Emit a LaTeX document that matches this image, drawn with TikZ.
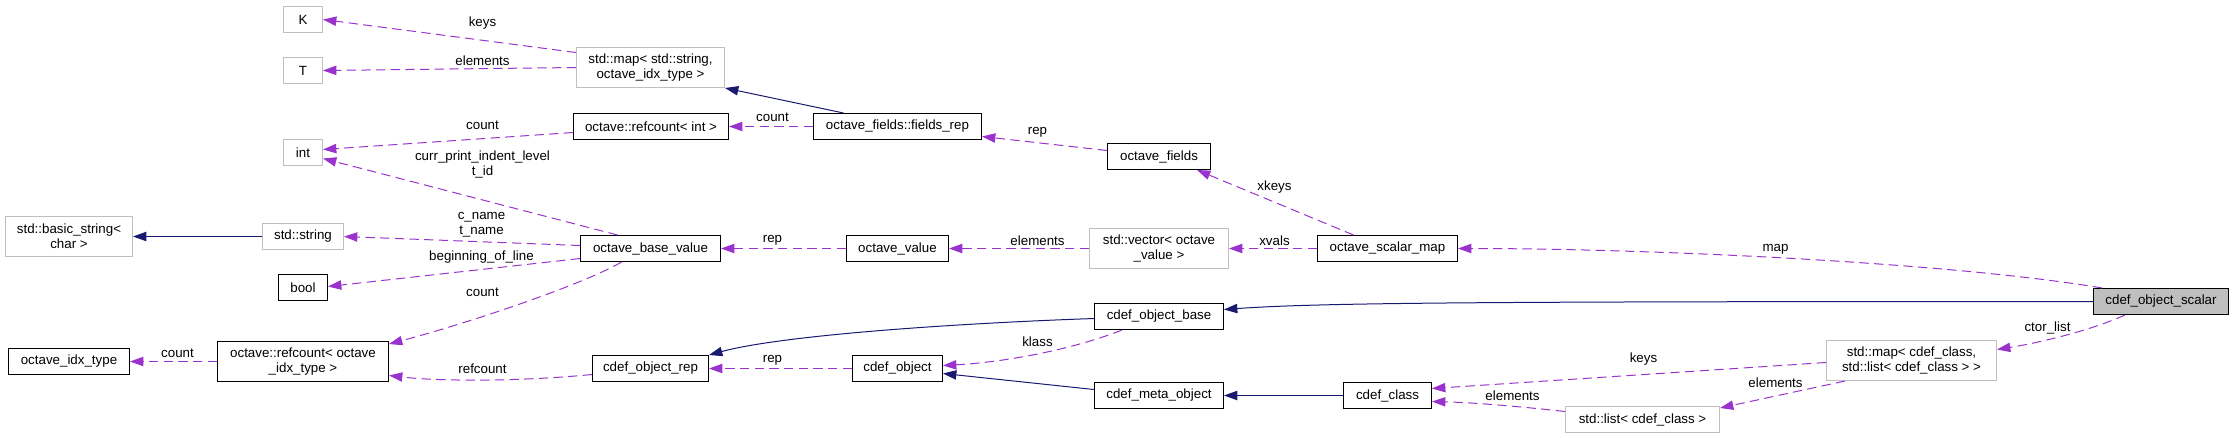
\documentclass[tikz,border=0pt]{standalone}
\usepackage{fontspec}
\setmainfont{Liberation Sans}
\usetikzlibrary{arrows.meta,calc}
\definecolor{edgeblue}{HTML}{191970}
\definecolor{edgepurple}{HTML}{9A32CD}
\definecolor{extgray}{HTML}{BFBFBF}
\definecolor{curfill}{HTML}{BFBFBF}

\begin{document}
\begin{tikzpicture}[x=0.75pt,y=-0.75pt,
  every node/.style={font=\fontsize{10}{11.25}\selectfont},
  cls/.style={draw=black,line width=0.75pt,inner sep=0pt,align=center},
  ext/.style={cls,draw=extgray},
  cur/.style={cls,fill=curfill},
  sz/.style 2 args={minimum width=#1*0.75pt,minimum height=#2*0.75pt},
  lbl/.style={inner sep=0pt,align=center},
  inhedge/.style={edgeblue,line width=0.75pt,-{Triangle[length=10pt,width=7pt]}},
  useedge/.style={edgepurple,line width=0.75pt,dash pattern=on 7pt off 4pt,-{Triangle[length=10pt,width=7pt]}}]
  \useasboundingbox (-0.5,-0.5) rectangle (2232.5,436.5);

  % classes
  \node[ext,sz={39}{26}] (K) at (302.5,19) {K};
  \node[ext,sz={39}{26}] (T) at (302.5,70) {T};
  \node[ext,sz={148}{40}] (mapstr) at (650,67) {std::map< std::string,\\ octave\_idx\_type >};
  \node[cls,sz={155}{26}] (rcint) at (650.5,126) {octave::refcount< int >};
  \node[cls,sz={168}{26}] (fieldsrep) at (897,126) {octave\_fields::fields\_rep};
  \node[ext,sz={39}{26}] (int) at (302.5,152) {int};
  \node[cls,sz={103}{26}] (ofields) at (1158.5,156) {octave\_fields};
  \node[ext,sz={127}{40}] (basicstr) at (68.5,236) {std::basic\_string<\\ char >};
  \node[ext,sz={81}{26}] (stdstr) at (302.5,236) {std::string};
  \node[cls,sz={140}{26}] (obv) at (650,248) {octave\_base\_value};
  \node[cls,sz={102}{26}] (ovalue) at (897,248) {octave\_value};
  \node[ext,sz={139}{40}] (vecov) at (1158.5,248) {std::vector< octave\\ \_value >};
  \node[cls,sz={140}{26}] (osm) at (1387,248) {octave\_scalar\_map};
  \node[cls,sz={49}{26}] (bool) at (302.5,287) {bool};
  \node[cls,sz={129}{26}] (cobase) at (1158.5,316) {cdef\_object\_base};
  \node[cur,sz={135}{26}] (cscalar) at (2160.5,301) {cdef\_object\_scalar};
  \node[cls,sz={121}{26}] (idxtype) at (68.5,361) {octave\_idx\_type};
  \node[cls,sz={171}{40}] (rcidx) at (302.5,361) {octave::refcount< octave\\ \_idx\_type >};
  \node[cls,sz={116}{26}] (corep) at (650,368) {cdef\_object\_rep};
  \node[cls,sz={90}{26}] (cobj) at (897,368) {cdef\_object};
  \node[cls,sz={129}{26}] (cmeta) at (1158.5,395) {cdef\_meta\_object};
  \node[cls,sz={88}{26}] (cclass) at (1387,395) {cdef\_class};
  \node[ext,sz={170}{40}] (mapcls) at (1911,360) {std::map< cdef\_class,\\ std::list< cdef\_class > >};
  \node[ext,sz={154}{26}] (listcls) at (1642,419) {std::list< cdef\_class >};

  % inheritance
  \draw[inhedge] ($(fieldsrep.north)+(-54,0)$) -- (mapstr.south east);
  \draw[inhedge] (stdstr.west) -- (basicstr.east);
  \draw[inhedge] (cscalar.west) .. controls (1500,301) and (1320,302) .. ($(cobase.east)+(0,-7)$);
  \draw[inhedge] ($(cobase.west)+(0,2)$) .. controls (950,323) and (780,335) .. (corep.north east);
  \draw[inhedge] ($(cmeta.west)+(0,-6)$) -- ($(cobj.east)+(0,5)$);
  \draw[inhedge] (cclass.west) -- (cmeta.east);

  % members
  \draw[useedge] ($(mapstr.west)+(0,-15)$) -- (K.east);
  \draw[useedge] (mapstr.west) -- (T.east);
  \draw[useedge] ($(rcint.west)+(0,6)$) -- ($(int.east)+(0,-3)$);
  \draw[useedge] (fieldsrep.west) -- (rcint.east);
  \draw[useedge] ($(ofields.west)+(0,-6)$) -- ($(fieldsrep.east)+(0,10)$);
  \draw[useedge] ($(osm.north)+(-34,0)$) -- ($(ofields.south)+(38,0)$);
  \draw[useedge] ($(obv.north)+(-33,0)$) -- ($(int.east)+(0,6)$);
  \draw[useedge] ($(obv.west)+(0,-3)$) -- (stdstr.east);
  \draw[useedge] ($(obv.west)+(0,10)$) -- ($(bool.east)+(0,-1)$);
  \draw[useedge] ($(obv.south)+(-29,0)$) .. controls (585,283) and (470,322) .. ($(rcidx.north east)+(0,3)$);
  \draw[useedge] (rcidx.west) -- (idxtype.east);
  \draw[useedge] ($(corep.west)+(0,6)$) .. controls (520,381) and (440,381) .. ($(rcidx.east)+(0,14)$);
  \draw[useedge] (ovalue.west) -- (obv.east);
  \draw[useedge] (vecov.west) -- (ovalue.east);
  \draw[useedge] (osm.west) -- (vecov.east);
  \draw[useedge] ($(cscalar.north west)+(9,0)$) .. controls (1950,262) and (1650,248) .. (osm.east);
  \draw[useedge] ($(cobase.south)+(-37,0)$) .. controls (1070,350) and (1000,362) .. ($(cobj.east)+(0,-3)$);
  \draw[useedge] (cobj.west) -- (corep.east);
  \draw[useedge] ($(mapcls.west)+(0,2)$) -- ($(cclass.east)+(0,-7)$);
  \draw[useedge] ($(mapcls.south west)+(19,0)$) -- ($(listcls.north east)+(0,2)$);
  \draw[useedge] ($(listcls.west)+(0,-8)$) .. controls (1510,405) and (1470,402) .. ($(cclass.east)+(0,6)$);
  \draw[useedge] ($(cscalar.south)+(-36,0)$) .. controls (2090,330) and (2040,342) .. ($(mapcls.east)+(0,-11)$);

  % edge labels
  \node[lbl] (l-keys) at (482,23) {keys};
  \node[lbl] (l-elem) at (482,60) {elements};
  \node[lbl] (l-cint) at (482,125) {count};
  \node[lbl] (l-indent) at (482,164) {curr\_print\_indent\_level\\t\_id};
  \node[lbl] (l-names) at (481,224) {c\_name\\t\_name};
  \node[lbl] (l-bol) at (481,257) {beginning\_of\_line};
  \node[lbl] (l-cidx) at (482,292) {count};
  \node[lbl] (l-count) at (177,353) {count};
  \node[lbl] (l-refc) at (482,368) {refcount};
  \node[lbl] (l-cfld) at (772,117) {count};
  \node[lbl] (l-rep1) at (1037,132) {rep};
  \node[lbl] (l-xkeys) at (1274,187) {xkeys};
  \node[lbl] (l-rep2) at (772,240) {rep};
  \node[lbl] (l-vel) at (1037,240) {elements};
  \node[lbl] (l-xvals) at (1274,240) {xvals};
  \node[lbl] (l-map) at (1775,249) {map};
  \node[lbl] (l-klass) at (1037,341) {klass};
  \node[lbl] (l-rep3) at (772,360) {rep};
  \node[lbl] (l-ckeys) at (1643,359) {keys};
  \node[lbl] (l-lel) at (1775,382) {elements};
  \node[lbl] (l-cel) at (1512,395) {elements};
  \node[lbl] (l-ctor) at (2047,327) {ctor\_list};
\end{tikzpicture}
\end{document}
